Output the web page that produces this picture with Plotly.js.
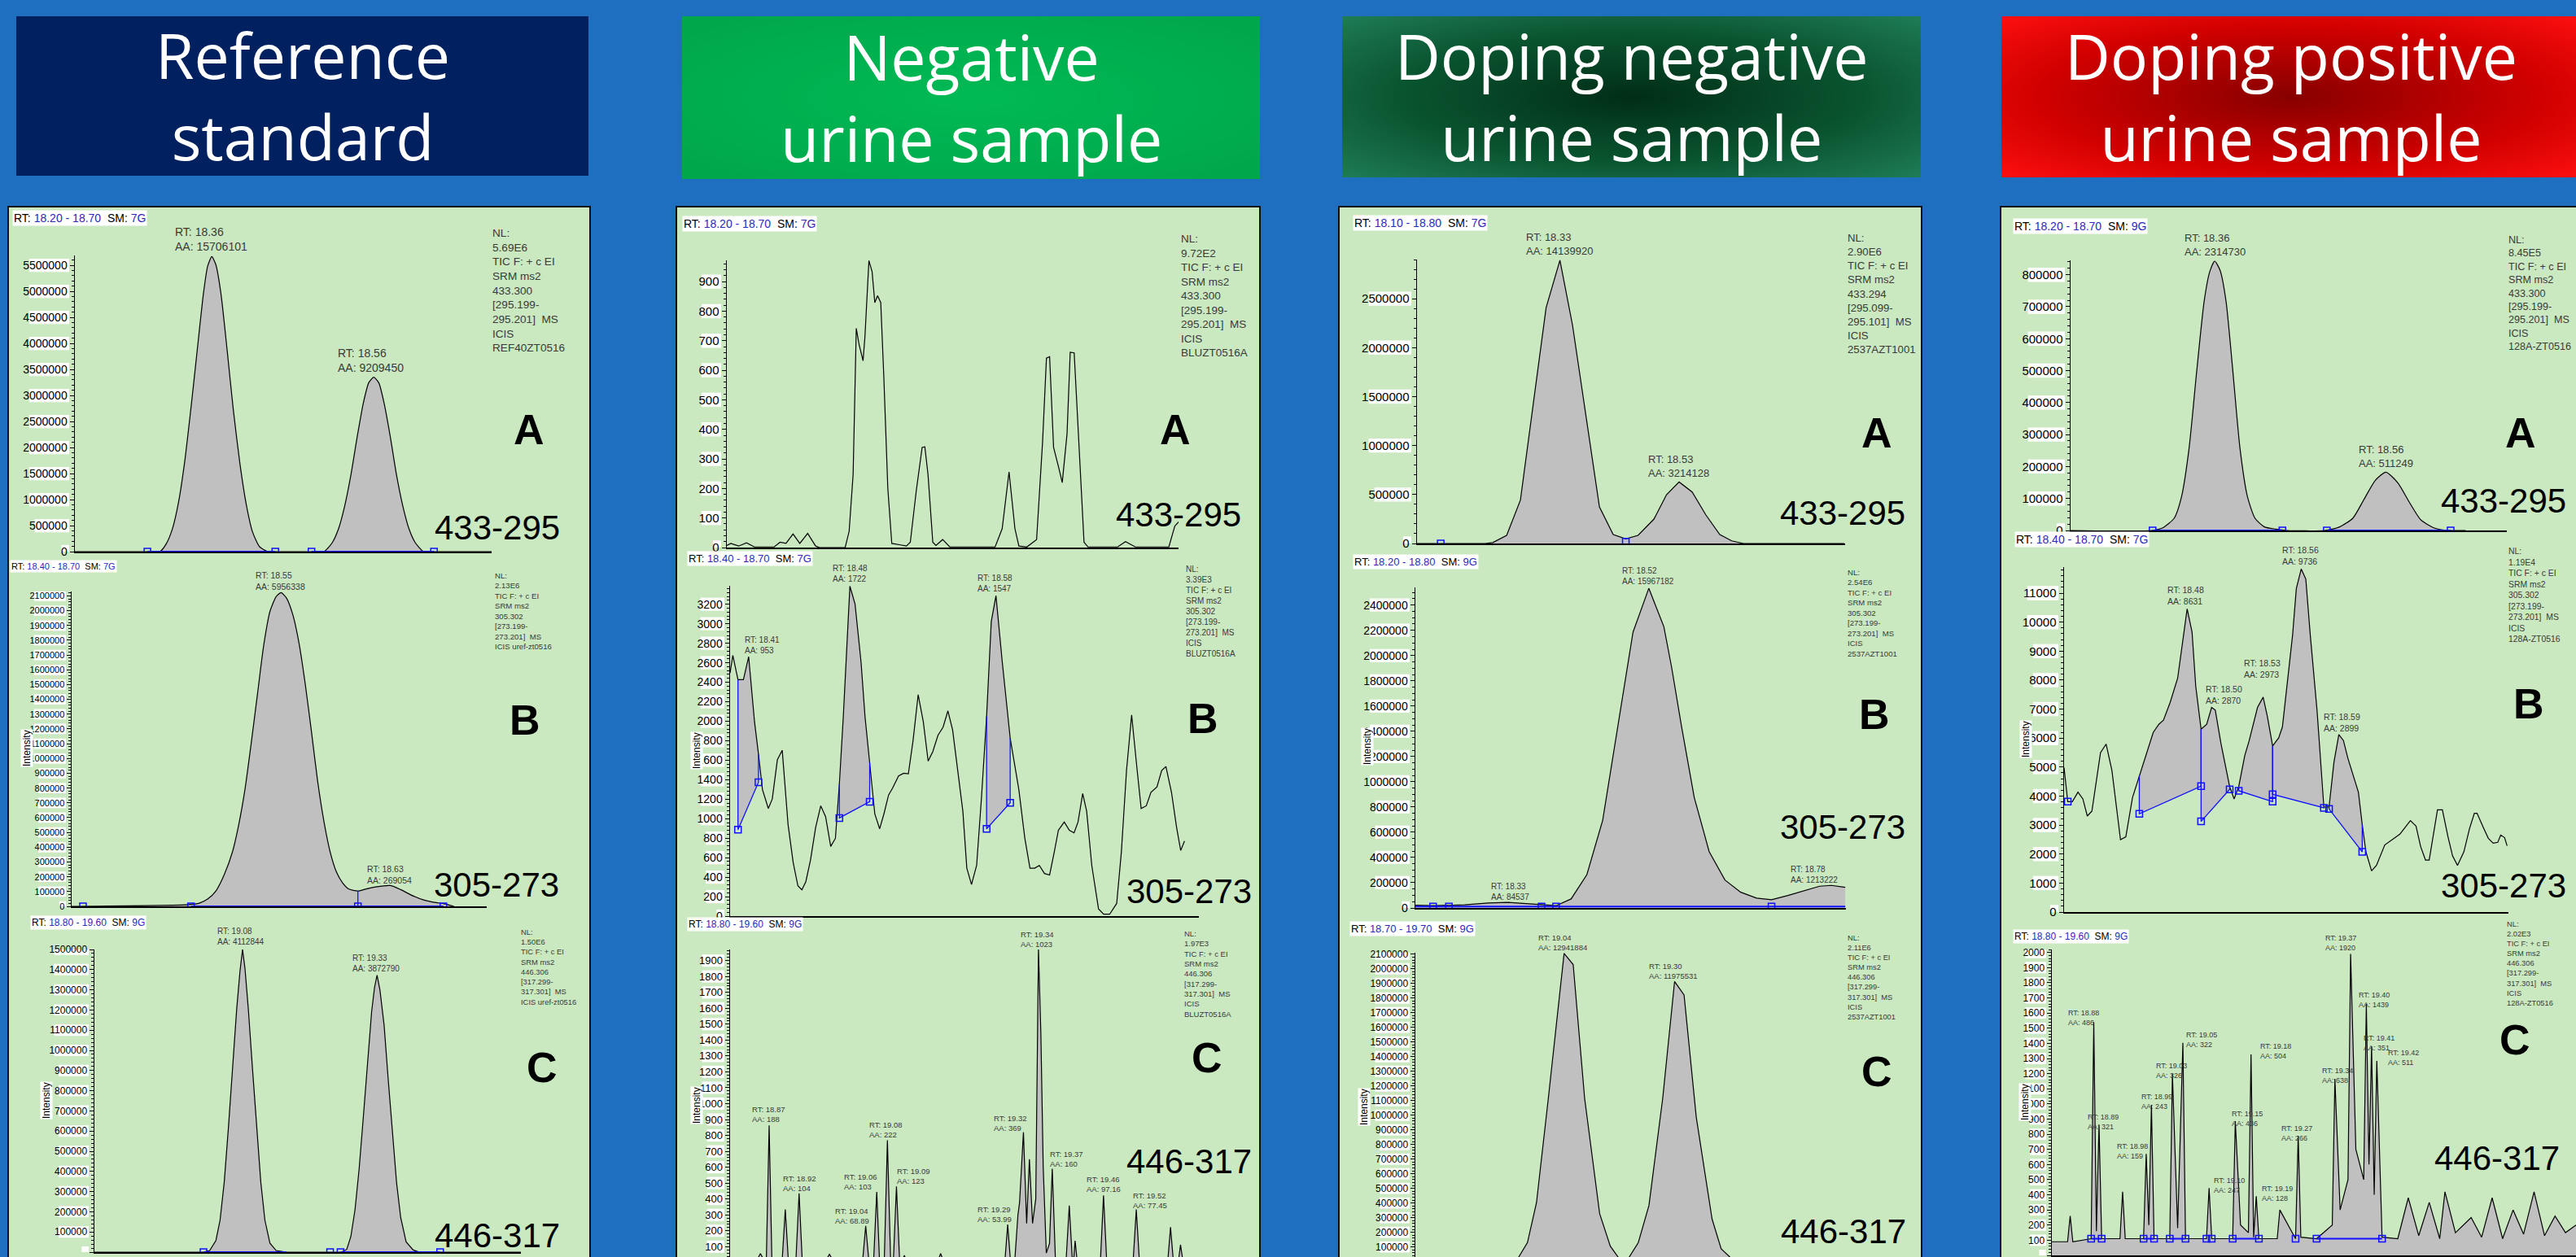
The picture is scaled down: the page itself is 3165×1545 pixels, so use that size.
<!DOCTYPE html>
<html><head><meta charset="utf-8">
<script src="https://cdn.plot.ly/plotly-3.0.1.min.js"></script>
<style>html,body{margin:0;padding:0;background:#1E6FBF;}#chart{width:3165px;height:1545px;}</style>
</head><body><div id="chart"></div>
<script>
// ======================= DATA =======================
const headers = [["Reference", "standard"], ["Negative", "urine sample"], ["Doping negative", "urine sample"], ["Doping positive", "urine sample"]];
const transitions = ["433-295", "305-273", "446-317"];
const panelLetters = ["A", "B", "C"];

// --- Reference standard ---
const c1A_rt = [18.2000,18.2870,18.3020,18.3095,18.3169,18.3244,18.3318,18.3394,18.3468,18.3543,18.3593,18.3643,18.3692,18.3752,18.3827,18.3901,18.3981,18.4057,18.4131,18.4216,18.4315,18.4415,18.4839,18.4988,18.5088,18.5162,18.5237,18.5312,18.5387,18.5461,18.5526,18.5586,18.5646,18.5710,18.5785,18.5859,18.5935,18.6010,18.6084,18.6184,18.6309,18.7000];
const c1A_int = [0,0,0,146900,432800,953100,1734400,2776600,3870300,4964000,5484400,5667200,5510900,4964000,3870300,2725000,1682800,901600,381250,93750,0,0,0,0,171900,432800,875000,1475000,2203100,2854700,3245300,3350000,3245300,2854700,2203100,1475000,875000,432800,171900,0,0,0];
const c1B_rt = [18.4000,18.4848,18.4923,18.4983,18.5043,18.5103,18.5163,18.5208,18.5253,18.5298,18.5343,18.5388,18.5433,18.5478,18.5514,18.5553,18.5598,18.5643,18.5688,18.5734,18.5778,18.5824,18.5868,18.5914,18.5958,18.6004,18.6069,18.6124,18.6198,18.6304,18.6378,18.6454,18.6544,18.6634,18.6694,18.6763];
const c1B_int = [0,12100,21500,49000,104000,214100,369900,553700,792000,1104100,1434300,1764600,1993600,2094800,2122300,2085500,1975400,1782700,1507500,1177300,847000,571900,369900,232300,159100,116700,104000,116700,131500,140900,113400,76500,43500,25300,17600,0];
const c1C_rt = [18.8000,19.0046,19.0163,19.0279,19.0357,19.0435,19.0513,19.0591,19.0669,19.0731,19.0779,19.0824,19.0887,19.0965,19.1043,19.1121,19.1198,19.1292,19.1409,19.1603,19.2461,19.2632,19.2733,19.2811,19.2889,19.2966,19.3044,19.3122,19.3200,19.3255,19.3302,19.3356,19.3434,19.3511,19.3589,19.3667,19.3745,19.3847,19.3980,19.4096,19.4485,19.6000];
const c1C_int = [0,0,8000,57600,158200,346200,614400,909900,1205000,1393000,1500100,1406300,1205000,909900,614400,346200,158200,44300,8000,0,0,0,13300,77700,211800,413100,668300,950100,1191700,1312500,1372900,1298800,1124500,855900,587800,346200,171500,50700,10500,0,0,0];

// --- Negative urine sample ---
const c2A_rt = [18.2000,18.2044,18.2131,18.2218,18.2305,18.2524,18.2589,18.2655,18.2733,18.2808,18.2895,18.2983,18.3026,18.3310,18.3354,18.3398,18.3433,18.3464,18.3508,18.3529,18.3573,18.3608,18.3638,18.3669,18.3704,18.3738,18.3782,18.3826,18.3922,18.3988,18.4031,18.4097,18.4162,18.4192,18.4227,18.4280,18.4315,18.4389,18.4468,18.4970,18.5048,18.5124,18.5189,18.5233,18.5320,18.5429,18.5495,18.5538,18.5573,18.5617,18.5670,18.5713,18.5766,18.5801,18.5845,18.5889,18.5954,18.5998,18.6326,18.6413,18.6522,18.6893,18.6959,18.7002];
const c2A_int = [7,14,5,16,2,2,18,14,46,14,48,5,0,0,55,247,742,687,632,714,971,934,829,852,829,577,201,14,9,5,18,192,339,341,247,18,7,27,2,2,64,256,64,5,2,27,357,641,646,339,275,220,385,661,659,403,18,2,2,20,2,2,73,87];
const c2B_rt = [18.4000,18.4019,18.4054,18.4091,18.4127,18.4167,18.4194,18.4221,18.4261,18.4288,18.4323,18.4356,18.4396,18.4431,18.4463,18.4490,18.4517,18.4549,18.4584,18.4619,18.4652,18.4687,18.4719,18.4746,18.4773,18.4818,18.4853,18.4894,18.4921,18.4953,18.4988,18.5021,18.5050,18.5082,18.5109,18.5150,18.5185,18.5217,18.5249,18.5284,18.5319,18.5352,18.5384,18.5419,18.5454,18.5487,18.5519,18.5554,18.5589,18.5616,18.5648,18.5683,18.5716,18.5751,18.5783,18.5815,18.5858,18.5912,18.5971,18.6012,18.6047,18.6079,18.6111,18.6146,18.6181,18.6213,18.6241,18.6281,18.6316,18.6348,18.6375,18.6407,18.6434,18.6469,18.6515,18.6550,18.6591,18.6639,18.6671,18.6706,18.6741,18.6779,18.6806,18.6841,18.6873,18.6914,18.6946,18.6975,18.7013,18.7048,18.7076,18.7102];
const c2B_int = [2495,2676,2426,2426,2662,1994,1660,1299,1104,1201,1605,1702,937,548,311,270,353,575,909,1132,1021,715,798,1355,2050,3386,3204,2607,2050,1577,1048,896,1048,1243,1313,1438,1466,1460,1800,2273,1994,1591,1689,1856,1939,2106,1911,1493,1076,492,325,520,1215,2050,3024,3288,2607,1827,1299,798,492,492,520,437,422,659,881,965,881,854,965,1257,1076,520,74,19,19,130,659,1493,2064,1493,1104,1132,1271,1326,1493,1535,1271,909,673,770];
const c2C_rt = [18.8000,18.8461,18.8530,18.8599,18.8633,18.8682,18.8730,18.8909,18.8964,18.9018,18.9149,18.9205,18.9260,18.9666,18.9735,18.9804,19.0314,19.0368,19.0423,19.0506,19.0561,19.0609,19.0692,19.0747,19.0803,19.0851,19.0905,19.0960,19.1009,19.1043,19.1078,19.1628,19.1676,19.1725,19.2798,19.2847,19.2895,19.2972,19.3026,19.3054,19.3122,19.3178,19.3226,19.3281,19.3337,19.3384,19.3426,19.3467,19.3521,19.3577,19.3625,19.3680,19.3866,19.3922,19.3976,19.4004,19.4024,19.4060,19.4466,19.4520,19.4575,19.5037,19.5092,19.5146,19.5642,19.5690,19.5739,19.5828,19.5864,19.5898];
const c2C_int = [10,10,57,10,15,863,15,10,334,10,10,436,10,10,52,10,10,231,10,10,445,10,10,769,10,10,479,10,10,46,10,10,57,10,10,240,10,20,300,377,820,246,650,246,400,1973,1444,600,60,120,590,20,10,359,10,40,137,10,10,423,10,10,334,10,10,223,10,10,112,30];

// --- Doping negative urine sample ---
const c3A_rt = [18.1000,18.1388,18.2111,18.2240,18.2466,18.2691,18.3111,18.3337,18.3543,18.3983,18.4208,18.4414,18.4615,18.4874,18.5080,18.5286,18.5499,18.5724,18.5951,18.6145,18.6338,18.7984];
const c3A_int = [0,0,0,10000,83000,443000,2409000,2893000,2229000,374000,91000,47000,83000,249000,498000,628000,526000,291000,91000,27000,0,0];
const c3B_rt = [18.2000,18.2247,18.2687,18.3016,18.3291,18.3511,18.3758,18.3961,18.4170,18.4390,18.4610,18.4830,18.5033,18.5253,18.5463,18.5571,18.5710,18.5886,18.6094,18.6314,18.6534,18.6754,18.6963,18.7193,18.7413,18.7633,18.7798,18.7990];
const c3B_int = [22000,18000,24500,39300,43800,34800,22000,18000,71500,264600,694100,1455800,2185400,2533000,2228500,1906600,1434600,876300,446900,221500,124900,77900,65000,99200,135900,172600,179000,163500];
const c3C_rt = [18.7000,18.9350,18.9414,18.9618,18.9829,19.0106,19.0474,19.0686,19.0953,19.1304,19.1553,19.1745,19.1810,19.1930,19.1994,19.2207,19.2456,19.2778,19.3055,19.3276,19.3561,19.3930,19.4143,19.4344,19.4418,19.7000];
const c3C_int = [0,0,31200,129700,402300,1116300,2105200,2029000,1116300,327800,105200,31200,0,0,31200,129700,383400,1116300,1913800,1821400,986700,291000,86800,31200,0,0];

// --- Doping positive urine sample ---
const c4A_rt = [18.2000,18.2927,18.3057,18.3187,18.3272,18.3359,18.3445,18.3531,18.3596,18.3652,18.3713,18.3782,18.3855,18.3941,18.4027,18.4114,18.4221,18.4351,18.4480,18.4911,18.5084,18.5235,18.5364,18.5493,18.5614,18.5752,18.5881,18.6011,18.6162,18.6335,18.6529];
const c4A_int = [0,0,8400,38200,106100,258800,496300,716900,810300,842400,814400,716900,513300,258800,106100,38200,11200,4300,0,0,11200,38200,97700,157000,182500,148600,89100,34100,8400,0,0];
const c4B_rt = [18.4000,18.4025,18.4056,18.4094,18.4127,18.4157,18.4188,18.4246,18.4284,18.4323,18.4381,18.4417,18.4462,18.4508,18.4551,18.4602,18.4640,18.4671,18.4716,18.4767,18.4831,18.4864,18.4889,18.4925,18.4963,18.4996,18.5021,18.5059,18.5118,18.5148,18.5179,18.5220,18.5250,18.5306,18.5344,18.5372,18.5408,18.5449,18.5474,18.5505,18.5543,18.5568,18.5601,18.5632,18.5662,18.5708,18.5754,18.5789,18.5822,18.5855,18.5886,18.5916,18.5949,18.5987,18.6013,18.6038,18.6076,18.6109,18.6165,18.6216,18.6267,18.6338,18.6376,18.6407,18.6440,18.6465,18.6521,18.6554,18.6592,18.6623,18.6656,18.6699,18.6737,18.6770,18.6788,18.6826,18.6864,18.6897,18.6928,18.6948,18.6974,18.6991];
const c4B_int = [4980,3809,3809,4137,3902,3312,3481,5494,5795,4885,2497,2592,3949,4699,5401,6197,6478,6618,7227,8070,10458,9660,7789,6309,6478,7059,6964,5823,4323,3902,4323,5401,5916,7059,7413,6759,5728,6008,6385,7882,9568,11160,11834,11486,9568,6947,3621,3621,5166,6121,5916,5306,4744,4137,3014,2076,1421,1610,2312,2497,2685,3154,2966,2264,1795,1795,3528,3528,2592,1935,1610,2076,2874,3407,3407,2966,2545,2376,2405,2657,2565,2284];
const c4C_rt = [18.8000,18.8300,18.8350,18.8400,18.8750,18.8800,18.8850,18.8900,18.8950,18.9300,18.9350,18.9400,18.9750,18.9800,18.9850,18.9900,18.9950,19.0250,19.0300,19.0400,19.0500,19.0550,19.0950,19.1000,19.1050,19.1450,19.1500,19.1600,19.1750,19.1800,19.1850,19.1900,19.1950,19.2300,19.2350,19.2650,19.2700,19.2750,19.3050,19.3350,19.3400,19.3500,19.3650,19.3700,19.3800,19.3950,19.4000,19.4050,19.4100,19.4150,19.4200,19.4300,19.4600,19.4800,19.5000,19.5200,19.5400,19.5500,19.5700,19.6000,19.6200,19.6400,19.6600,19.6800,19.7000,19.7200,19.7400,19.7600,19.7800,19.8000];
const c4C_int = [90,90,260,90,110,1540,160,864,110,110,420,110,110,670,200,994,110,110,1198,180,1403,110,110,444,110,110,886,200,150,1327,120,390,110,110,300,110,789,120,110,200,1166,300,500,1990,700,500,1661,600,1381,400,1284,120,110,380,130,350,110,420,150,250,120,380,110,300,140,420,130,260,150,200];

// Panel annotations (text content)
const rtRanges = ["18.20 - 18.70","18.40 - 18.70","18.80 - 19.60","18.20 - 18.70","18.40 - 18.70","18.80 - 19.60","18.10 - 18.80","18.20 - 18.80","18.70 - 19.70","18.20 - 18.70","18.40 - 18.70","18.80 - 19.60"];
const smooth = ["7G","7G","9G","7G","7G","9G","7G","9G","9G","9G","7G","9G"];
const nlValues = ["5.69E6","2.13E6","1.50E6","9.72E2","3.39E3","1.97E3","2.90E6","2.54E6","2.11E6","8.45E5","1.19E4","2.02E3"];
const precursors = ["433.300","305.302","446.306","433.300","305.302","446.306","433.294","305.302","446.306","433.300","305.302","446.306"];
const productLo = ["[295.199-","[273.199-","[317.299-","[295.199-","[273.199-","[317.299-","[295.099-","[273.199-","[317.299-","[295.199-","[273.199-","[317.299-"];
const productHi = ["295.201]  MS","273.201]  MS","317.301]  MS","295.201]  MS","273.201]  MS","317.301]  MS","295.101]  MS","273.201]  MS","317.301]  MS","295.201]  MS","273.201]  MS","317.301]  MS"];
const icisNames = ["ICIS<br>REF40ZT0516","ICIS uref-zt0516","ICIS uref-zt0516","ICIS<br>BLUZT0516A","ICIS<br>BLUZT0516A","ICIS<br>BLUZT0516A","ICIS<br>2537AZT1001","ICIS<br>2537AZT1001","ICIS<br>2537AZT1001","ICIS<br>128A-ZT0516","ICIS<br>128A-ZT0516","ICIS<br>128A-ZT0516"];
const peakLabels = [
  [["18.36","15706101"],["18.56","9209450"]],
  [["18.55","5956338"],["18.63","269054"]],
  [["19.08","4112844"],["19.33","3872790"]],
  [],
  [["18.41","953"],["18.48","1722"],["18.58","1547"]],
  [["18.87","188"],["18.92","104"],["19.04","68.89"],["19.06","103"],["19.08","222"],["19.09","123"],["19.29","53.99"],["19.32","369"],["19.34","1023"],["19.37","160"],["19.46","97.16"],["19.52","77.45"]],
  [["18.33","14139920"],["18.53","3214128"]],
  [["18.52","15967182"],["18.33","84537"],["18.78","1213222"]],
  [["19.04","12941884"],["19.30","11975531"]],
  [["18.36","2314730"],["18.56","511249"]],
  [["18.56","9736"],["18.48","8631"],["18.50","2870"],["18.53","2973"],["18.59","2899"]],
  [["19.37","1920"],["18.88","486"],["19.05","322"],["19.03","326"],["19.18","504"],["19.40","1439"],["19.41","351"],["19.42","511"],["19.34","638"],["18.99","243"],["19.15","436"],["19.27","266"],["18.89","321"],["18.98","159"],["19.10","247"],["19.19","128"]]
];

// ======================= LAYOUT HELPERS =======================
const W = 3165, H = 1545;
const fx = p => p / W, fy = p => 1 - p / H;
const NARROW = '"Liberation Sans Narrow","Arial Narrow","Liberation Sans",Arial,sans-serif';
const GRAYTXT = '#3a3a3a';

const G = [
 {xd:[92,604],  yd:[314,678],  xr:[18.20,18.70], yr:[0,5.69e6], dt:5e5, mdt:1e5, tf:14, rt:[15,268,14], info:[603,357,13.6], let:[650,528], big:[611,648], pk:[[259,294,14],[456,443,14]]},
 {xd:[88,598],  yd:[727,1114], xr:[18.40,18.70], yr:[0,2.13e6], dt:1e5, mdt:2e4, tf:11, rt:[12,696,11], info:[606,751,9.6], let:[645,885], big:[610,1087], ints:[33,920], pk:[[344,714,10.5],[478,1075,10.5]]},
 {xd:[116,640], yd:[1167,1539],xr:[18.80,19.60], yr:[0,1.5e6],  dt:1e5, mdt:2e4, tf:12, rt:[37,1134,12], info:[638,1188,9.4], let:[666,1312], big:[611,1518], ints:[57,1352], pk:[[296,1151,10],[462,1184,10]]},
 {xd:[893,1448], yd:[320,673], xr:[18.20,18.70], yr:[0,972],    dt:100, mdt:20,  tf:15, rt:[838,275,14], info:[1449,363,13.5], let:[1444,528], big:[1448,632], pk:[]},
 {xd:[897,1473], yd:[720,1126],xr:[18.40,18.72], yr:[0,3390],   dt:200, mdt:40,  tf:14, rt:[844,686,13], info:[1455,751,10], let:[1478,883], big:[1461,1095], ints:[856,922], pk:[[936,793,10],[1044,705,10],[1222,717,10]]},
 {xd:[897,1460], yd:[1167,1545],xr:[18.80,19.60], yr:[35,1970], dt:100, mdt:20,  tf:13, rt:[844,1136,12], info:[1453,1197,9.5], let:[1483,1300], big:[1461,1427], ints:[856,1358],
   pk:[[945,1369,9.5],[982,1454,9.5],[1047,1494,9.5],[1057,1452,9.5],[1088,1388,9.5],[1122,1445,9.5],[1222,1492,9.5],[1241,1380,9.5],[1274,1154,9.5],[1310,1424,9.5],[1356,1455,9.5],[1413,1475,9.5]]},
 {xd:[1741,2267],yd:[319,668], xr:[18.10,18.80], yr:[0,2.9e6],  dt:5e5, mdt:1e5, tf:15, rt:[1662,274,14], info:[2268,361,13.2], let:[2306,532], big:[2264,630], pk:[[1916,300,13],[2062,573,13]]},
 {xd:[1739,2268],yd:[722,1116],xr:[18.20,18.80], yr:[0,2.54e6], dt:2e5, mdt:5e4, tf:14, rt:[1662,690,13], info:[2268,753,9.6], let:[2303,878], big:[2264,1017], ints:[1680,918], pk:[[2025,708,10],[1855,1096,10],[2229,1075,10]]},
 {xd:[1739,2265],yd:[1171,1545],xr:[18.70,19.70], yr:[31200,2.11e6], dt:1e5, mdt:2e4, tf:12, rt:[1658,1141,13], info:[2268,1201,9.3], let:[2306,1317], big:[2265,1513], ints:[1676,1360], pk:[[1920,1158,9.5],[2056,1193,9.5]]},
 {xd:[2544,3080],yd:[320,652], xr:[18.20,18.70], yr:[0,8.45e5], dt:1e5, mdt:2e4, tf:15, rt:[2473,278,14], info:[3080,360,12.6], let:[3097,532], big:[3076,615], pk:[[2721,301,13],[2931,561,13]]},
 {xd:[2536,3082],yd:[697,1121],xr:[18.40,18.70], yr:[0,11900],  dt:1000,mdt:200, tf:15, rt:[2475,663,14], info:[3080,731,10.4], let:[3107,865], big:[3076,1088], ints:[2489,909], pk:[[2826,683,10.5],[2685,732,10.5],[2732,854,10.5],[2779,822,10.5],[2877,888,10.5]]},
 {xd:[2521,3165],yd:[1167,1543],xr:[18.80,19.80], yr:[0,2020],   dt:100, mdt:20,  tf:12, rt:[2473,1151,12], info:[3078,1184,9.3], let:[3090,1278], big:[3068,1423], ints:[2488,1355],
   pk:[[2876,1159,9],[2560,1251,9],[2705,1278,9],[2668,1316,9],[2796,1292,9],[2917,1229,9],[2923,1282,9],[2953,1300,9],[2872,1322,9],[2650,1354,9],[2761,1375,9],[2822,1393,9],[2584,1379,9],[2620,1415,9],[2739,1457,9],[2798,1467,9]]}
];

const CH = [
 {rt:c1A_rt, y:c1A_int, spline:true, fill:true, base:[[18.2870,18.4405],[18.4839,18.6309]], sq:[[18.2870,0],[18.4405,0],[18.4839,0],[18.6309,0]]},
 {rt:c1B_rt, y:c1B_int, spline:true, fill:true, base:[[18.4863,18.6687]], vlines:[[18.6069,0,104000]], sq:[[18.4082,0],[18.4863,0],[18.6069,0],[18.6687,0]]},
 {rt:c1C_rt, y:c1C_int, spline:false, fill:true, base:[[19.0046,19.1603],[19.2617,19.4485]], sq:[[19.0046,0],[19.2421,0],[19.2617,0],[19.4485,0]]},
 {rt:c2A_rt, y:c2A_int, spline:false, fill:false},
 {rt:c2B_rt, y:c2B_int, spline:false, fill:false, segs:[[18.4054,18.4194,887,1374],[18.4746,18.4953,1007,1174],[18.5751,18.5912,896,1163]]},
 {rt:c2C_rt, y:c2C_int, spline:false, fill:true},
 {rt:c3A_rt, y:c3A_int, spline:false, fill:true, sq:[[18.1388,0],[18.4414,18000]]},
 {rt:c3B_rt, y:c3B_int, spline:false, fill:true, base:[[18.2000,18.7990,12000]], sq:[[18.2247,12000],[18.2467,12000],[18.3758,12000],[18.3961,12000],[18.6963,12000]]},
 {rt:c3C_rt, y:c3C_int, spline:false, fill:true},
 {rt:c4A_rt, y:c4A_int, spline:true, fill:true, base:[[18.2940,18.4428],[18.4937,18.6356]], sq:[[18.2940,0],[18.4428,0],[18.4937,0],[18.6356,0]]},
 {rt:c4B_rt, y:c4B_int, spline:false, fill:false, segs:[[18.4508,18.4925,3388,4343],[18.4925,18.5118,3126,4230],[18.5179,18.5408,4183,3809],[18.5408,18.5754,4062,3593],[18.5789,18.6013,3556,2076]], sq:[[18.4025,3809]]},
 {rt:c4C_rt, y:c4C_int, spline:false, fill:true, base:[[18.8750,18.8950,110],[18.9750,18.9950,110],[19.0250,19.0550,110],[19.1450,19.1950,110],[19.3050,19.4300,110]], sq:[[18.8750,110],[18.8950,110],[18.9750,110],[18.9950,110],[19.0250,110],[19.0550,110],[19.0950,110],[19.1050,110],[19.1450,110],[19.1950,110],[19.2650,110],[19.3050,110],[19.4300,110]]}
];

// ======================= BUILD =======================
const traces = [], shapes = [], annotations = [], images = [];
const layout = {width:W, height:H, margin:{l:0,r:0,t:0,b:0}, paper_bgcolor:'#1E6FBF', plot_bgcolor:'rgba(0,0,0,0)', showlegend:false, hovermode:false};

function gradURL(kind, stops) {
  const c = document.createElement('canvas'); c.width = 400; c.height = 400;
  const g = c.getContext('2d');
  const gr = kind === 'radial' ? g.createRadialGradient(200,200,0,200,200,285) : g.createLinearGradient(0,0,400,0);
  stops.forEach(s => gr.addColorStop(s[0], s[1]));
  g.fillStyle = gr; g.fillRect(0,0,400,400);
  return c.toDataURL('image/png');
}
const headerBoxes = [
  {x:[20,723],   y:[20,216], kind:'linear', stops:[[0,'#002060'],[1,'#002060']]},
  {x:[838,1548], y:[20,220], kind:'radial', stops:[[0,'#00BA55'],[1,'#00A64B']]},
  {x:[1649,2360],y:[20,218], kind:'radial', stops:[[0,'#012E17'],[0.55,'#0A5430'],[1,'#1F7E57']]},
  {x:[2459,3170],y:[20,218], kind:'radial', stops:[[0,'#880000'],[0.6,'#D00000'],[1,'#FF1010']]}
];
headerBoxes.forEach((b, i) => {
  images.push({source:gradURL(b.kind, b.stops), xref:'paper', yref:'paper', x:fx(b.x[0]), y:fy(b.y[0]), sizex:(b.x[1]-b.x[0])/W, sizey:(b.y[1]-b.y[0])/H, sizing:'stretch', xanchor:'left', yanchor:'top', layer:'below'});
  const cx = (b.x[0]+b.x[1])/2, cy = (b.y[0]+b.y[1])/2;
  annotations.push({xref:'paper', yref:'paper', x:fx(cx), y:fy(cy), text:headers[i].join('<br>'), showarrow:false, xanchor:'center', yanchor:'middle', align:'center', font:{family:'"Open Sans",Lato,sans-serif', size:77, color:'#FFFFFF'}});
});

[[10,725],[831,1548],[1645,2361],[2458,3185]].forEach(p => shapes.push({type:'rect', xref:'paper', yref:'paper', x0:fx(p[0]), x1:fx(p[1]), y0:fy(254), y1:fy(1570), fillcolor:'#CAE9C0', line:{color:'#111', width:2}, layer:'below'}));

function curveAt(rt, y, x) { let best = 0; for (let i = 1; i < rt.length; i++) if (Math.abs(rt[i]-x) < Math.abs(rt[best]-x)) best = i; return y[best]; }

G.forEach((g, i) => {
  const n = i + 1, xa = n === 1 ? 'x' : 'x'+n, ya = n === 1 ? 'y' : 'y'+n;
  const xk = n === 1 ? 'xaxis' : 'xaxis'+n, yk = n === 1 ? 'yaxis' : 'yaxis'+n;
  layout[xk] = {domain:[fx(g.xd[0]), fx(g.xd[1])], range:g.xr, anchor:ya, showline:true, linecolor:'#000', linewidth:2, showticklabels:false, ticks:'', showgrid:false, zeroline:false, fixedrange:true};
  layout[yk] = {domain:[fy(g.yd[1]), fy(g.yd[0])], range:g.yr, anchor:xa, showline:true, linecolor:'#000', linewidth:1.5, ticks:'outside', ticklen:5, tickwidth:1, tickcolor:'#000', tickmode:'linear', tick0:0, dtick:g.dt, tickformat:'d', tickfont:{family:NARROW, size:g.tf, color:'#000'}, showgrid:false, zeroline:false, fixedrange:true,
    minor:{ticks:'outside', ticklen:3, tickcolor:'#000', tickwidth:1, dtick:g.mdt, tick0:0, showgrid:false}};
  for (let v = Math.ceil(g.yr[0]/g.dt)*g.dt; v <= g.yr[1]; v += g.dt) {
    const w = String(Math.round(v)).length * g.tf * 0.47 + 3;
    const xr = g.xd[0] - 7;
    shapes.push({type:'rect', xref:'paper', yref:ya, ysizemode:'pixel', yanchor:v, y0:-g.tf*0.58, y1:g.tf*0.58, x0:fx(xr - w), x1:fx(xr), fillcolor:'#FFFFFF', line:{width:0}, layer:'below'});
  }
  const c = CH[i];
  (c.segs || []).forEach(s => {
    const xs = [], ys = [];
    c.rt.forEach((r, k) => { if (r >= s[0]-1e-6 && r <= s[1]+1e-6) { xs.push(r); ys.push(c.y[k]); } });
    xs.push(s[1], s[0], xs[0]); ys.push(s[3], s[2], ys[0]);
    traces.push({x:xs, y:ys, xaxis:xa, yaxis:ya, mode:'lines', fill:'toself', fillcolor:'#C0C0C0', line:{width:0}, hoverinfo:'skip'});
  });
  traces.push({x:c.rt, y:c.y, xaxis:xa, yaxis:ya, mode:'lines', line:{color:'#000', width:1.2, shape:c.spline?'spline':'linear', smoothing:0.6}, fill:c.fill?'tozeroy':'none', fillcolor:'#C0C0C0', hoverinfo:'skip'});
  (c.segs || []).forEach(s => {
    traces.push({x:[s[0],s[0],s[1],s[1]], y:[curveAt(c.rt,c.y,s[0]), s[2], s[3], curveAt(c.rt,c.y,s[1])], xaxis:xa, yaxis:ya, mode:'lines', line:{color:'#1010FF', width:1.3}, hoverinfo:'skip'});
    traces.push({x:[s[0],s[1]], y:[s[2],s[3]], xaxis:xa, yaxis:ya, mode:'markers', marker:{symbol:'square-open', size:8, color:'#1010FF', line:{width:1.5}}, hoverinfo:'skip'});
  });
  (c.base || []).forEach(b => traces.push({x:[b[0],b[1]], y:[b[2]||0,b[2]||0], xaxis:xa, yaxis:ya, mode:'lines', line:{color:'#1010FF', width:2}, hoverinfo:'skip'}));
  (c.vlines || []).forEach(v => traces.push({x:[v[0],v[0]], y:[v[1],v[2]], xaxis:xa, yaxis:ya, mode:'lines', line:{color:'#1010FF', width:1.3}, hoverinfo:'skip'}));
  if (c.sq) traces.push({x:c.sq.map(s=>s[0]), y:c.sq.map(s=>s[1]), xaxis:xa, yaxis:ya, mode:'markers', marker:{symbol:'square-open', size:8, color:'#1010FF', line:{width:1.5}}, hoverinfo:'skip'});

  const blue = 'color:#2A2AB8';
  annotations.push({xref:'paper', yref:'paper', x:fx(g.rt[0]), y:fy(g.rt[1]), xanchor:'left', yanchor:'middle', showarrow:false, bgcolor:'#FFFFFF', borderpad:1,
    text:'RT:&nbsp;<span style="'+blue+'">'+rtRanges[i]+'</span>&nbsp;&nbsp;SM:&nbsp;<span style="'+blue+'">'+smooth[i]+'</span>', font:{family:NARROW, size:g.rt[2], color:'#000'}});
  const info = ['NL:', nlValues[i], 'TIC F: + c EI', 'SRM ms2', precursors[i], productLo[i], productHi[i], icisNames[i]].join('<br>');
  annotations.push({xref:'paper', yref:'paper', x:fx(g.info[0]), y:fy(g.info[1]), xanchor:'left', yanchor:'middle', align:'left', showarrow:false, text:info, font:{family:NARROW, size:g.info[2], color:GRAYTXT}});
  annotations.push({xref:'paper', yref:'paper', x:fx(g.let[0]), y:fy(g.let[1]), xanchor:'center', yanchor:'middle', showarrow:false, text:'<b>'+panelLetters[i%3]+'</b>', font:{family:'"Liberation Sans",Arial,sans-serif', size:52, color:'#000'}});
  annotations.push({xref:'paper', yref:'paper', x:fx(g.big[0]), y:fy(g.big[1]), xanchor:'center', yanchor:'middle', showarrow:false, text:transitions[i%3], font:{family:'"Liberation Sans",Arial,sans-serif', size:42, color:'#000'}});
  if (g.ints) annotations.push({xref:'paper', yref:'paper', x:fx(g.ints[0]), y:fy(g.ints[1]), xanchor:'center', yanchor:'middle', showarrow:false, textangle:-90, bgcolor:'#FFFFFF', borderpad:0, text:'Intensity', font:{family:NARROW, size:12, color:'#000'}});
  g.pk.forEach((p, k) => {
    const L = peakLabels[i][k];
    if (!L) return;
    annotations.push({xref:'paper', yref:'paper', x:fx(p[0]), y:fy(p[1]), xanchor:'center', yanchor:'middle', showarrow:false, text:'RT: '+L[0]+'<br>AA: '+L[1], align:'left', font:{family:NARROW, size:p[2], color:GRAYTXT}});
  });
});

layout.shapes = shapes; layout.annotations = annotations; layout.images = images;
Plotly.newPlot('chart', traces, layout, {staticPlot:true, displayModeBar:false});
</script></body></html>
